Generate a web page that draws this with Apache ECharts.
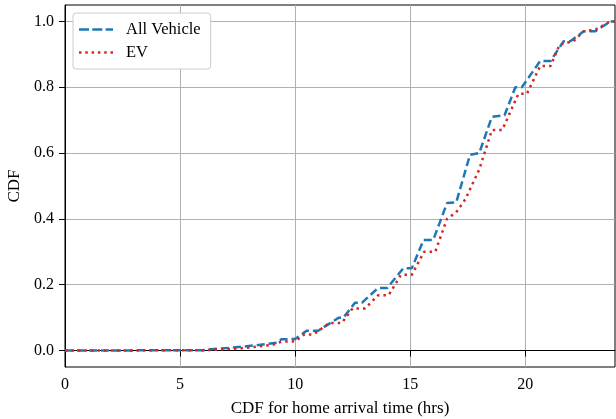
<!DOCTYPE html>
<html>
<head>
<meta charset="utf-8">
<script src="https://cdn.jsdelivr.net/npm/echarts@6/dist/echarts.min.js"></script>
<style>
  html, body { margin: 0; padding: 0; background: #fff; }
  #chart { width: 616px; height: 419px; }
</style>
</head>
<body>
<div id="chart"></div>
<script>
// CDF of home arrival time as [hour, cdf]
var allVehicle = [
  [0, 0], [6, 0.001], [6.3, 0.004], [7.3, 0.009], [8.3, 0.016], [9.2, 0.024],
  [9.4, 0.034], [10, 0.035], [10.5, 0.06], [11, 0.06], [11.9, 0.10], [12.1, 0.10],
  [12.6, 0.145], [12.9, 0.145], [13.6, 0.19], [14.0, 0.19], [14.7, 0.25], [15.07, 0.25],
  [15.58, 0.336], [16.0, 0.336], [16.6, 0.448], [17.0, 0.45], [17.6, 0.595], [18.0, 0.60],
  [18.55, 0.71], [19.1, 0.715], [19.57, 0.80], [19.85, 0.80], [20.65, 0.88], [21.1, 0.88],
  [21.67, 0.94], [21.96, 0.94], [22.54, 0.97], [23.04, 0.97], [23.7, 1.0], [23.9, 1.0]
];
var ev = [
  [0, 0], [6, 0.001], [7, 0.004], [8, 0.009], [9, 0.017], [9.4, 0.027], [10, 0.028],
  [10.4, 0.049], [10.8, 0.049], [11.5, 0.084], [12.03, 0.084], [12.5, 0.128], [13.04, 0.128],
  [13.6, 0.168], [14.06, 0.168], [14.6, 0.23], [15.07, 0.23], [15.6, 0.30], [16.09, 0.30],
  [16.6, 0.40], [17.0, 0.42], [17.4, 0.46], [18.0, 0.55], [18.55, 0.67], [19.0, 0.67],
  [19.7, 0.78], [20.07, 0.78], [20.65, 0.865], [21.1, 0.865], [21.5, 0.93], [22.1, 0.94],
  [22.54, 0.97], [23.04, 0.975], [23.7, 1.0], [23.9, 1.0]
];
var xTicks = [0, 5, 10, 15, 20];
var yTicks = [0, 0.2, 0.4, 0.6, 0.8, 1.0];

var chart = echarts.init(document.getElementById('chart'));
var serif = 'Liberation Serif';

// legend swatches drawn as small rects so they look dashed / dotted
var dashIcon = 'path://M0,0h10v2.5h-10z M13.3,0h10v2.5h-10z M26.6,0h7.4v2.5h-7.4z';
var dotIcon = 'path://M0,0h2.5v2.5h-2.5z M6.3,0h2.5v2.5h-2.5z M12.6,0h2.5v2.5h-2.5z M18.9,0h2.5v2.5h-2.5z M25.2,0h2.5v2.5h-2.5z M31.5,0h2.5v2.5h-2.5z';

var option = {
  animation: false,
  textStyle: { fontFamily: serif },
  grid: {
    left: 65, right: 1, top: 5, bottom: 52,
    outerBoundsMode: 'none',
    show: true, borderColor: '#000', borderWidth: 1, backgroundColor: 'transparent'
  },
  legend: {
    orient: 'vertical',
    left: 73, top: 13,
    padding: [8, 10, 8, 6],
    itemGap: 6,
    itemWidth: 34,
    itemHeight: 18,
    backgroundColor: '#fff',
    borderColor: '#cccccc',
    borderWidth: 1,
    borderRadius: 3,
    textStyle: { fontFamily: serif, fontSize: 16.5, color: '#000', padding: [0, 0, 0, 8] },
    data: [
      { name: 'All Vehicle', icon: dashIcon },
      { name: 'EV', icon: dotIcon }
    ]
  },
  xAxis: {
    type: 'value',
    min: 0, max: 23.9,
    name: 'CDF for home arrival time (hrs)',
    nameLocation: 'middle',
    nameGap: 33,
    nameTextStyle: { fontFamily: serif, fontSize: 17, color: '#000' },
    axisLine: { show: true, lineStyle: { color: '#000', width: 1 } },
    axisTick: { show: true, inside: false, length: 6, customValues: xTicks, lineStyle: { color: '#000' } },
    axisLabel: { customValues: xTicks, fontFamily: serif, fontSize: 16, color: '#000', margin: 10 },
    splitLine: { show: true, lineStyle: { color: '#b0b0b0', width: 1 } }
  },
  yAxis: {
    type: 'value',
    min: -0.05, max: 1.05,
    name: 'CDF',
    nameLocation: 'middle',
    nameGap: 36,
    nameTextStyle: { fontFamily: serif, fontSize: 17, color: '#000' },
    axisLine: { show: true, lineStyle: { color: '#000', width: 1 } },
    axisTick: { show: true, inside: false, length: 6, customValues: yTicks, lineStyle: { color: '#000' } },
    axisLabel: {
      customValues: yTicks, fontFamily: serif, fontSize: 16, color: '#000', margin: 11,
      formatter: function (v) { return v.toFixed(1); }
    },
    splitLine: { show: true, lineStyle: { color: '#b0b0b0', width: 1 } }
  },
  series: [
    {
      name: 'All Vehicle',
      type: 'line',
      symbol: 'none',
      data: allVehicle,
      itemStyle: { color: '#1f77b4' },
      lineStyle: { color: '#1f77b4', width: 2.5, type: [8, 4] },
      z: 3
    },
    {
      name: 'EV',
      type: 'line',
      symbol: 'none',
      data: ev,
      itemStyle: { color: '#d62728' },
      lineStyle: { color: '#d62728', width: 2.5, type: [2.5, 4] },
      z: 4
    }
  ]
};
chart.setOption(option);
</script>
</body>
</html>
